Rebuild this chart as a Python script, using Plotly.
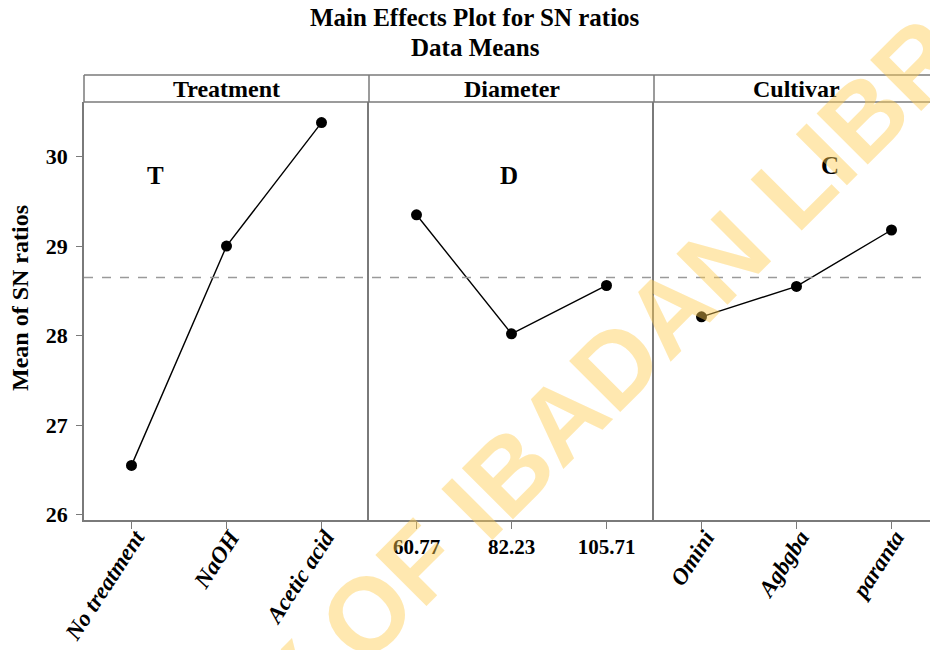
import plotly.graph_objects as go

# ---- data ----
panel_titles = ["Treatment", "Diameter", "Cultivar"]
panel_letters = ["T", "D", "C"]
treatment_levels = ["No treatment", "NaOH", "Acetic acid"]
treatment_means = [26.55, 29.00, 30.38]
diameter_levels = ["60.77", "82.23", "105.71"]
diameter_means = [29.35, 28.02, 28.56]
cultivar_levels = ["Omini", "Agbgba", "paranta"]
cultivar_means = [28.21, 28.55, 29.18]
grand_mean = 28.65
y_ticks = [26, 27, 28, 29, 30]
letter_pos_x = [0.25, 0.97, 1.35]
letter_pos_y = [29.79, 29.79, 29.90]

W, H = 930, 650
L, R, T, B = 84, 0, 75, 130
PW = W - L - R
PH = H - T - B
STRIP = 27
ydom_top = (PH - STRIP) / PH

def px_x(p):
    return (p - L) / PW

def px_y(p):
    return (H - B - p) / PH

serif = "Liberation Serif"
gray = "#7a7a7a"

panel_w = 285 / PW
domains = [[0, panel_w], [panel_w, 2 * panel_w], [2 * panel_w, 1.0]]

fig = go.Figure()
levels = [treatment_levels, diameter_levels, cultivar_levels]
means = [treatment_means, diameter_means, cultivar_means]

for i in range(3):
    xa = "x" if i == 0 else f"x{i+1}"
    ya = "y" if i == 0 else f"y{i+1}"
    fig.add_trace(go.Scatter(
        x=levels[i], y=means[i], mode="lines+markers",
        line=dict(color="black", width=1.4),
        marker=dict(color="black", size=11),
        xaxis=xa, yaxis=ya, showlegend=False, hoverinfo="skip"))

yrange = [25.94, 30.61]
common_x = dict(showline=True, linecolor=gray, linewidth=1.5, ticks="outside",
                ticklen=7, tickcolor=gray, tickwidth=1.2, showgrid=False,
                zeroline=False, type="category", mirror=False, automargin=False)
italic_font = dict(family=serif, size=23, color="black", weight="bold", style="italic")
plain_font = dict(family=serif, size=21, color="black", weight="bold")
common_y2 = dict(domain=[0, ydom_top], range=yrange, showticklabels=False,
                 showline=True, linecolor=gray, linewidth=1.5, mirror=False,
                 ticks="", showgrid=False, zeroline=False, automargin=False)

fig.update_layout(
    xaxis=dict(domain=domains[0], range=[-0.5, 2.5], tickangle=-57,
               tickfont=italic_font, anchor="y", ticklabelstandoff=-14,
               ticklabelshift=4, **common_x),
    xaxis2=dict(domain=domains[1], range=[-0.5, 2.5], tickangle=0,
                tickfont=plain_font, anchor="y2", **common_x),
    xaxis3=dict(domain=domains[2], range=[-0.5, 2.5 - 9 / 95.0], tickangle=-57,
                tickfont=italic_font, anchor="y3", ticklabelstandoff=-14,
                ticklabelshift=4, **common_x),
    yaxis=dict(domain=[0, ydom_top], range=yrange, tickvals=y_ticks,
               showline=True, linecolor=gray, linewidth=1.5, mirror=False,
               ticks="outside", ticklen=6, tickcolor=gray, tickwidth=1.2,
               ticklabelstandoff=4,
               tickfont=dict(family=serif, size=22, color="black", weight="bold"),
               showgrid=False, zeroline=False, anchor="x", automargin=False),
    yaxis2=dict(anchor="x2", **common_y2),
    yaxis3=dict(anchor="x3", **common_y2),
    width=W, height=H,
    margin=dict(l=L, r=R, t=T, b=B, autoexpand=False),
    plot_bgcolor="white", paper_bgcolor="white",
)

shapes = []
# grand mean dashed line
shapes.append(dict(type="line", xref="paper", yref="y", x0=0, x1=1,
                   y0=grand_mean, y1=grand_mean,
                   line=dict(color="#9a9a9a", width=1.6, dash="dash")))
# header strip
shapes.append(dict(type="line", xref="paper", yref="paper", x0=0, x1=1,
                   y0=1, y1=1, line=dict(color=gray, width=1.5)))
shapes.append(dict(type="line", xref="paper", yref="paper", x0=0, x1=1,
                   y0=ydom_top, y1=ydom_top, line=dict(color=gray, width=1.5)))
for xv in [0, panel_w, 2 * panel_w]:
    shapes.append(dict(type="line", xref="paper", yref="paper", x0=xv, x1=xv,
                       y0=ydom_top, y1=1, line=dict(color=gray, width=1.5)))
fig.update_layout(shapes=shapes)

ann = []
centers = [(84 + 369) / 2, (369 + 654) / 2, (654 + 939) / 2]
for i in range(3):
    ann.append(dict(text=panel_titles[i], xref="paper", yref="paper",
                    x=px_x(centers[i]), y=(1 + ydom_top) / 2, showarrow=False,
                    xanchor="center", yanchor="middle",
                    font=dict(family=serif, size=24, color="black", weight="bold")))
    xa = "x" if i == 0 else f"x{i+1}"
    ya = "y" if i == 0 else f"y{i+1}"
    ann.append(dict(text=panel_letters[i], xref=xa, yref=ya,
                    x=letter_pos_x[i], y=letter_pos_y[i], showarrow=False,
                    font=dict(family=serif, size=25, color="black", weight="bold")))

ann.append(dict(text="Main Effects Plot for SN ratios", xref="paper", yref="paper",
                x=px_x(475), y=px_y(18), showarrow=False, xanchor="center", yanchor="middle",
                font=dict(family=serif, size=25, color="black", weight="bold")))
ann.append(dict(text="Data Means", xref="paper", yref="paper",
                x=px_x(475), y=px_y(47), showarrow=False, xanchor="center", yanchor="middle",
                font=dict(family=serif, size=25, color="black", weight="bold")))
ann.append(dict(text="Mean of SN ratios", xref="paper", yref="paper",
                x=px_x(20), y=px_y(298), showarrow=False, textangle=-90,
                xanchor="center", yanchor="middle",
                font=dict(family=serif, size=24, color="black", weight="bold")))
# watermark
ann.append(dict(text="UNIVERSITY OF IBADAN LIBRARY", xref="paper", yref="paper",
                x=px_x(485), y=px_y(495), showarrow=False, textangle=-45,
                xanchor="center", yanchor="middle",
                font=dict(family="Liberation Sans", size=105,
                          color="rgba(255,205,80,0.45)", weight="bold")))
fig.update_layout(annotations=ann)

fig.write_html("out.html", config={"displayModeBar": False},
               post_script="document.body.style.margin='0';document.body.style.overflow='hidden';")
